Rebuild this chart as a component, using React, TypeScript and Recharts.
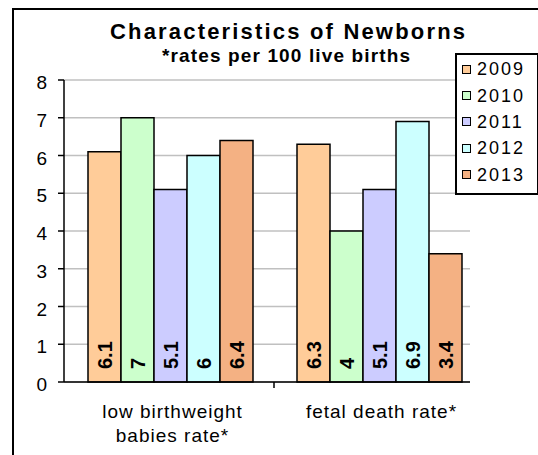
import { BarChart, Bar, XAxis, YAxis, CartesianGrid, Legend, LabelList } from 'recharts';

const categories = ['low birthweight\nbabies rate*', 'fetal death rate*'];
const years = ['2009', '2010', '2011', '2012', '2013'];
const rates2009 = [6.1, 6.3];
const rates2010 = [7, 4];
const rates2011 = [5.1, 5.1];
const rates2012 = [6, 6.9];
const rates2013 = [6.4, 3.4];
const yTicks = [0, 1, 2, 3, 4, 5, 6, 7, 8];

const seriesValues = [rates2009, rates2010, rates2011, rates2012, rates2013];
const colors = ['#FFCC99', '#CCFFCC', '#CCCCFF', '#CCFFFF', '#F4B183'];

const data = categories.map((name, i) => {
  const row: Record<string, string | number> = { name };
  years.forEach((y, k) => {
    row[y] = seriesValues[k][i];
  });
  return row;
});

const FONT = '"Liberation Sans", Arial, Helvetica, sans-serif';

const YTick = (props: any) => {
  const { x, y, payload } = props;
  return (
    <text x={x} y={y + 9} textAnchor="end" fontFamily={FONT} fontSize={19} fill="#000">
      {payload.value}
    </text>
  );
};

const CategoryTick = (props: any) => {
  const { x, y, payload, index } = props;
  const lines = String(payload.value).split('\n');
  const half = payload.offset;
  return (
    <g>
      {index === 0 && typeof half === 'number' && half > 0 ? (
        <line x1={x + half} x2={x + half} y1={y} y2={y + 6} stroke="#000" strokeWidth={1.5} />
      ) : null}
      <text textAnchor="middle" fontFamily={FONT} fontSize={19} fill="#000" letterSpacing={1}>
        {lines.map((line, i) => (
          <tspan key={i} x={x + 3} y={y + 36 + i * 24}>
            {line}
          </tspan>
        ))}
      </text>
    </g>
  );
};

const BarValue = (props: any) => {
  const { x, y, width, height, value } = props;
  const cx = x + width / 2;
  const base = y + height - 13;
  return (
    <text
      x={cx}
      y={base}
      transform={`rotate(-90, ${cx}, ${base})`}
      textAnchor="start"
      dominantBaseline="central"
      fontFamily={FONT}
      fontWeight="bold"
      fontSize={20}
      fill="#000"
    >
      {value}
    </text>
  );
};

const LegendBox = (props: any) => {
  const { payload } = props;
  return (
    <div
      style={{
        boxSizing: 'border-box',
        width: 84,
        height: 142,
        border: '2px solid #000',
        background: '#fff',
        paddingTop: 1,
      }}
    >
      {(payload || []).map((entry: any) => (
        <div key={entry.value} style={{ display: 'flex', alignItems: 'center', height: 26.4 }}>
          <span
            style={{
              display: 'inline-block',
              boxSizing: 'border-box',
              width: 9,
              height: 9,
              marginLeft: 5,
              border: '1px solid #000',
              background: entry.color,
            }}
          />
          <span
            style={{
              marginLeft: 6,
              fontFamily: FONT,
              fontSize: 18,
              letterSpacing: 2,
              color: '#000',
              lineHeight: '18px',
            }}
          >
            {entry.value}
          </span>
        </div>
      ))}
    </div>
  );
};

const App = () => {
  return (
    <div style={{ position: 'absolute', left: 0, top: 0, width: 538, height: 455, overflow: 'hidden', background: '#fff' }}>
      <div
        style={{
          position: 'absolute',
          left: 12,
          top: 8,
          width: 560,
          height: 480,
          border: '2px solid #000',
        }}
      />
      <div style={{ position: 'absolute', left: 0, top: 0 }}>
        <BarChart
          width={538}
          height={455}
          data={data}
          margin={{ top: 80, right: 68, bottom: 0, left: 0 }}
          barCategoryGap={23}
          barGap={0}
        >
          <CartesianGrid vertical={false} stroke="#c0c0c0" strokeWidth={1.5} />
          <XAxis
            dataKey="name"
            height={73}
            padding={{ left: 1, right: -13 }}
            axisLine={{ stroke: '#000', strokeWidth: 1.5 }}
            tickLine={false}
            tickSize={0}
            tickMargin={0}
            interval={0}
            tick={<CategoryTick />}
          />
          <YAxis
            width={64}
            domain={[0, 8]}
            ticks={yTicks}
            interval={0}
            axisLine={{ stroke: '#000', strokeWidth: 1.5 }}
            tickLine={{ stroke: '#000', strokeWidth: 1.5 }}
            tickSize={6}
            tickMargin={11}
            tick={<YTick />}
          />
          <Legend
            layout="vertical"
            align="center"
            verticalAlign="middle"
            wrapperStyle={{ left: 455, top: 53, width: 84, height: 142 }}
            content={<LegendBox />}
          />
          {years.map((year, k) => (
            <Bar
              key={year}
              dataKey={year}
              name={year}
              fill={colors[k]}
              stroke="#000"
              strokeWidth={1.5}
              isAnimationActive={false}
            >
              <LabelList dataKey={year} content={<BarValue />} />
            </Bar>
          ))}
        </BarChart>
      </div>
      <svg width={538} height={455} style={{ position: 'absolute', left: 0, top: 0, pointerEvents: 'none' }}>
        <text
          x={287.5}
          y={39}
          textAnchor="middle"
          fontFamily={FONT}
          fontWeight="bold"
          fontSize={22}
          textLength={355}
          lengthAdjust="spacing"
          fill="#000"
        >
          Characteristics  of Newborns
        </text>
        <text
          x={286}
          y={62}
          textAnchor="middle"
          fontFamily={FONT}
          fontWeight="bold"
          fontSize={19}
          textLength={248}
          lengthAdjust="spacing"
          fill="#000"
        >
          *rates per 100 live births
        </text>
      </svg>
    </div>
  );
};

export default App;
